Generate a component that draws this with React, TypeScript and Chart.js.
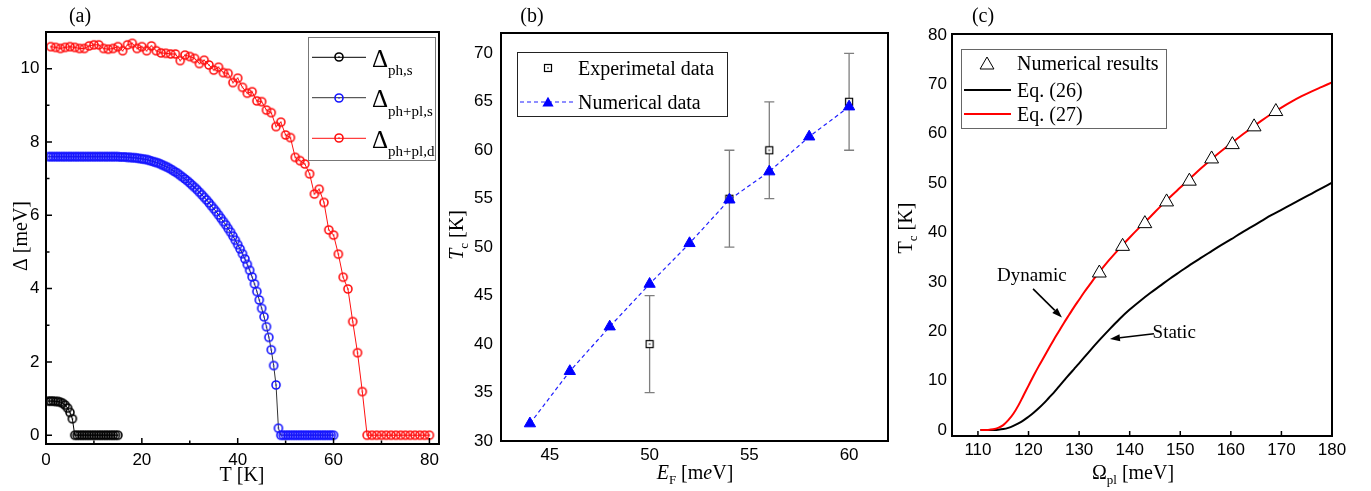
import React, { useEffect, useRef } from 'react';
import { Chart, registerables } from 'chart.js';

Chart.register(...registerables);

const SERIF = '"Liberation Serif", "Times New Roman", Times, serif';
const SANS = '"Liberation Sans", Arial, Helvetica, sans-serif';

// ---------------- Panel (a): gap vs temperature ----------------
const gridT = (start: number, step: number, n: number) =>
  Array.from({ length: n }, (_, i) => Math.round((start + i * step) * 100) / 100);

const deltaPhS = [
  0.93, 0.93, 0.93, 0.92, 0.92, 0.9, 0.87, 0.82, 0.74, 0.62, 0.45,
  0, 0, 0, 0, 0, 0, 0, 0, 0, 0, 0, 0, 0, 0, 0, 0, 0, 0, 0,
];
const tempPhS = gridT(0.5, 0.5, deltaPhS.length);

const deltaPhPlS = [
  7.6, 7.6, 7.6, 7.6, 7.6, 7.6, 7.6, 7.6, 7.6, 7.6,
  7.6, 7.6, 7.6, 7.6, 7.6, 7.6, 7.6, 7.6, 7.6, 7.6,
  7.6, 7.6, 7.6, 7.6, 7.6, 7.6, 7.6, 7.6, 7.6,
  7.6, 7.59, 7.59, 7.59, 7.58, 7.58, 7.57, 7.57, 7.56, 7.55,
  7.54, 7.53, 7.52, 7.5, 7.48, 7.46, 7.44, 7.42, 7.39, 7.36,
  7.33, 7.3, 7.26, 7.22, 7.18, 7.14, 7.09, 7.04, 6.99, 6.94,
  6.88, 6.82, 6.76, 6.7, 6.63, 6.56, 6.49, 6.42, 6.34, 6.26,
  6.18, 6.1, 6.01, 5.92, 5.83, 5.74, 5.64, 5.54, 5.43, 5.32,
  5.2, 5.08, 4.95, 4.81, 4.66, 4.5, 4.32, 4.13, 3.92, 3.69,
  3.46, 3.23, 2.96, 2.67, 2.33, 1.9, 1.37, 0.19,
  0, 0, 0, 0, 0, 0, 0, 0, 0, 0, 0, 0, 0, 0, 0, 0, 0, 0, 0, 0, 0, 0, 0,
];
const tempPhPlS = gridT(0.5, 0.5, deltaPhPlS.length);

const deltaPhPlD = [
  10.6, 10.58, 10.55, 10.58, 10.6, 10.58, 10.55, 10.55, 10.62, 10.65,
  10.65, 10.55, 10.53, 10.55, 10.6, 10.49, 10.65, 10.69, 10.55, 10.6,
  10.49, 10.62, 10.49, 10.43, 10.42, 10.4, 10.4, 10.22, 10.37, 10.33,
  10.28, 10.14, 10.23, 10.1, 9.96, 10.04, 9.89, 9.87, 9.62, 9.74,
  9.49, 9.33, 9.37, 9.12, 9.1, 8.87, 8.8, 8.42, 8.54, 8.19,
  8.12, 7.58, 7.49, 7.4, 7.13, 6.58, 6.71, 6.35, 5.6, 5.46,
  4.94, 4.31, 3.99, 3.1, 2.25, 1.19, 0, 0, 0, 0,
  0, 0, 0, 0, 0, 0, 0, 0, 0, 0,
];
const tempPhPlD = gridT(1, 1, deltaPhPlD.length);

const aXTicks = [0, 20, 40, 60, 80];
const aXMinor = [10, 30, 50, 70];
const aYTicks = [0, 2, 4, 6, 8, 10];
const aYMinor = [1, 3, 5, 7, 9];

// ---------------- Panel (b): Tc vs E_F ----------------
const numEF = [44, 46, 48, 50, 52, 54, 56, 58, 60];
const numTc = [31.8, 37.2, 41.8, 46.2, 50.4, 54.9, 57.8, 61.4, 64.5];
const expEF = [50, 54, 56, 60];
const expTc = [40, 55, 60, 65];
const expErr = [5, 5, 5, 5];
const bXTicks = [45, 50, 55, 60];
const bYTicks = [30, 35, 40, 45, 50, 55, 60, 65, 70];

// ---------------- Panel (c): Tc vs Omega_pl ----------------
const numOmega = [134.0, 138.6, 143.0, 147.3, 151.8, 156.2, 160.3, 164.6, 168.9];
const numTcC = [31.8, 37.2, 41.8, 46.2, 50.4, 54.9, 57.8, 61.4, 64.5];
const eq27Omega = [110.5, 112, 113, 114, 115, 116, 117, 118, 119, 120, 121, 122, 123, 124, 125, 126, 127, 128, 129, 130, 131, 132, 133, 134, 136, 138, 140, 142, 144, 146, 148, 150, 152, 154, 156, 158, 160, 162, 164, 166, 168, 170, 172, 174, 176, 178, 180];
const eq27Tc = [0, 0.03, 0.15, 0.45, 1.0, 2.0, 3.3, 5.0, 7.0, 9.0, 11.0, 12.9, 14.7, 16.5, 18.3, 20.0, 21.7, 23.3, 24.9, 26.4, 27.9, 29.3, 30.7, 32.0, 34.5, 36.8, 39.0, 41.1, 43.1, 45.2, 47.2, 49.1, 51.0, 52.9, 54.7, 56.4, 58.0, 59.6, 61.1, 62.6, 64.0, 65.3, 66.5, 67.6, 68.6, 69.5, 70.4];
const eq26Omega = [110.5, 112, 113, 114, 115, 116, 117, 118, 119, 120, 121, 122, 123, 124, 125, 126, 127, 128, 129, 130, 132, 134, 136, 138, 140, 142, 144, 146, 148, 150, 152, 154, 156, 158, 160, 162, 164, 166, 168, 170, 172, 174, 176, 178, 180];
const eq26Tc = [0, 0.01, 0.03, 0.08, 0.2, 0.45, 0.85, 1.35, 1.95, 2.7, 3.5, 4.4, 5.4, 6.5, 7.6, 8.8, 10.0, 11.2, 12.35, 13.5, 15.9, 18.2, 20.4, 22.5, 24.4, 26.1, 27.7, 29.2, 30.7, 32.1, 33.5, 34.8, 36.1, 37.4, 38.6, 39.9, 41.1, 42.3, 43.5, 44.6, 45.7, 46.8, 47.9, 49.0, 50.1];
const cXTicks = [110, 120, 130, 140, 150, 160, 170, 180];
const cYTicks = [0, 10, 20, 30, 40, 50, 60, 70, 80];

// annotation anchors (data units of panel c)
const dynLabel = { text: 'Dynamic', x: 120.66, y: 31.6 };
const dynArrow = { x1: 120.9, y1: 28.6, x2: 126.6, y2: 22.8 };
const staLabel = { text: 'Static', x: 148.8, y: 20.0 };
const staArrow = { x1: 144.8, y1: 19.5, x2: 136.1, y2: 18.45 };

// ---------------- layout ----------------
const H = 491;
const A_LEFT = 0, A_W = 445;
const B_LEFT = 445, B_W = 455;
const C_LEFT = 885, C_W = 486;

type Part = { t: string; f: string; dy?: number };

function richWidth(ctx: CanvasRenderingContext2D, parts: Part[]) {
  let w = 0;
  for (const p of parts) {
    ctx.font = p.f;
    w += ctx.measureText(p.t).width;
  }
  return w;
}
function drawRich(ctx: CanvasRenderingContext2D, parts: Part[], x: number, y: number, align: string) {
  let cx = align === 'center' ? x - richWidth(ctx, parts) / 2 : x;
  ctx.textAlign = 'left';
  ctx.textBaseline = 'alphabetic';
  for (const p of parts) {
    ctx.font = p.f;
    ctx.fillText(p.t, cx, y + (p.dy || 0));
    cx += ctx.measureText(p.t).width;
  }
}
function drawRotated(ctx: CanvasRenderingContext2D, parts: Part[], x: number, y: number) {
  ctx.save();
  ctx.translate(x, y);
  ctx.rotate(-Math.PI / 2);
  drawRich(ctx, parts, 0, 0, 'center');
  ctx.restore();
}

function makeCircleDot(color: string) {
  const c = document.createElement('canvas');
  c.width = 12;
  c.height = 12;
  const g = c.getContext('2d')!;
  g.strokeStyle = color;
  g.lineWidth = 1.6;
  g.beginPath();
  g.arc(6, 6, 4, 0, Math.PI * 2);
  g.stroke();
  g.fillStyle = color;
  g.beginPath();
  g.arc(6, 6, 0.8, 0, Math.PI * 2);
  g.fill();
  return c;
}
function makeSquareDot() {
  const c = document.createElement('canvas');
  c.width = 10;
  c.height = 10;
  const g = c.getContext('2d')!;
  g.fillStyle = '#fff';
  g.fillRect(1.5, 1.5, 7, 7);
  g.strokeStyle = '#000';
  g.lineWidth = 1.2;
  g.strokeRect(1.5, 1.5, 7, 7);
  g.fillStyle = '#000';
  g.beginPath();
  g.arc(5, 5, 0.8, 0, Math.PI * 2);
  g.fill();
  return c;
}

function axis(min: number, max: number, ticks: number[], pad: number, size: number, horizontal: boolean) {
  return {
    type: 'linear',
    min,
    max,
    grid: { display: false, drawTicks: false },
    border: { display: false },
    ticks: {
      padding: pad,
      color: '#000',
      font: { family: SANS, size: 17 },
      autoSkip: false,
      maxRotation: 0,
      includeBounds: false,
      callback: (v: any) => String(v),
    },
    afterBuildTicks: (s: any) => {
      s.ticks = ticks.map((v) => ({ value: v }));
    },
    afterFit: (s: any) => {
      if (horizontal) s.height = size;
      else s.width = size;
    },
  };
}

function frame(ctx: CanvasRenderingContext2D, ca: any) {
  ctx.strokeStyle = '#000';
  ctx.lineWidth = 2;
  ctx.strokeRect(ca.left, ca.top, ca.right - ca.left, ca.bottom - ca.top);
}

function pts(xs: number[], ys: number[]) {
  return xs.map((x, i) => ({ x, y: ys[i] }));
}

const baseOpts = (padding: any) => ({
  responsive: false,
  maintainAspectRatio: false,
  animation: false,
  events: [],
  layout: { padding },
  plugins: { legend: { display: false }, tooltip: { enabled: false }, title: { display: false } },
});

function buildA(canvas: HTMLCanvasElement) {
  const imgK = makeCircleDot('#000');
  const imgB = makeCircleDot('#1414ff');
  const imgR = makeCircleDot('#ff1010');
  const extras = {
    id: 'extrasA',
    afterDraw(chart: any) {
      const { ctx, chartArea: ca } = chart;
      const x = chart.scales.x, y = chart.scales.y;
      ctx.save();
      ctx.strokeStyle = '#000';
      ctx.lineWidth = 1.5;
      ctx.beginPath();
      for (const v of aXTicks) { const p = x.getPixelForValue(v); ctx.moveTo(p, ca.bottom); ctx.lineTo(p, ca.bottom - 6); }
      for (const v of aXMinor) { const p = x.getPixelForValue(v); ctx.moveTo(p, ca.bottom); ctx.lineTo(p, ca.bottom - 3.5); }
      for (const v of aYTicks) { const p = y.getPixelForValue(v); ctx.moveTo(ca.left, p); ctx.lineTo(ca.left + 6, p); }
      for (const v of aYMinor) { const p = y.getPixelForValue(v); ctx.moveTo(ca.left, p); ctx.lineTo(ca.left + 3.5, p); }
      ctx.stroke();
      frame(ctx, ca);
      ctx.translate(-A_LEFT, 0);
      // legend
      ctx.fillStyle = '#fff';
      ctx.fillRect(308, 37, 127, 123);
      ctx.strokeStyle = '#777';
      ctx.lineWidth = 1;
      ctx.strokeRect(308.5, 37.5, 127, 123);
      const rows = [
        { y: 57.3, line: '#000', img: imgK, sub: 'ph,s' },
        { y: 97.7, line: '#333', img: imgB, sub: 'ph+pl,s' },
        { y: 138.3, line: '#ff1010', img: imgR, sub: 'ph+pl,d' },
      ];
      for (const r of rows) {
        ctx.strokeStyle = r.line;
        ctx.lineWidth = 1;
        ctx.beginPath();
        ctx.moveTo(312, r.y);
        ctx.lineTo(366, r.y);
        ctx.stroke();
        ctx.drawImage(r.img, 339 - 6, Math.round(r.y) - 6);
        ctx.fillStyle = '#000';
        drawRich(ctx, [
          { t: 'Δ', f: `25px ${SERIF}` },
          { t: r.sub, f: `15px ${SERIF}`, dy: 8.5 },
        ], 372, r.y + 9.5, 'left');
      }
      ctx.fillStyle = '#000';
      drawRich(ctx, [{ t: '(a)', f: `20px ${SERIF}` }], 80, 22, 'center');
      drawRich(ctx, [{ t: 'T [K]', f: `20px ${SERIF}` }], 242, 481, 'center');
      drawRotated(ctx, [{ t: 'Δ [meV]', f: `20px ${SERIF}` }], 27, 236);
      ctx.restore();
    },
  };
  return new Chart(canvas, {
    type: 'scatter',
    data: {
      datasets: [
        { data: pts(tempPhS, deltaPhS), showLine: true, borderColor: '#000', borderWidth: 1, pointStyle: imgK, pointRadius: 4 },
        { data: pts(tempPhPlS, deltaPhPlS), showLine: true, borderColor: '#333', borderWidth: 1, pointStyle: imgB, pointRadius: 4 },
        { data: pts(tempPhPlD, deltaPhPlD), showLine: true, borderColor: '#ff1010', borderWidth: 1, pointStyle: imgR, pointRadius: 4 },
      ],
    } as any,
    options: {
      ...baseOpts({ left: 0, top: 32, right: A_W - 439, bottom: 0 }),
      scales: {
        x: axis(0, 82, aXTicks, 6, H - 444, true),
        y: axis(-0.24, 11, aYTicks, 6.5, 46, false),
      },
    } as any,
    plugins: [extras],
  });
}

function buildB(canvas: HTMLCanvasElement) {
  const sq = makeSquareDot();
  const extras = {
    id: 'extrasB',
    beforeDatasetsDraw(chart: any) {
      const { ctx } = chart;
      const x = chart.scales.x, y = chart.scales.y;
      ctx.save();
      ctx.strokeStyle = '#7f7f7f';
      ctx.lineWidth = 1.3;
      ctx.beginPath();
      expEF.forEach((e, i) => {
        const px = x.getPixelForValue(e);
        const lo = y.getPixelForValue(expTc[i] - expErr[i]);
        const hi = y.getPixelForValue(expTc[i] + expErr[i]);
        ctx.moveTo(px, lo); ctx.lineTo(px, hi);
        ctx.moveTo(px - 5, lo); ctx.lineTo(px + 5, lo);
        ctx.moveTo(px - 5, hi); ctx.lineTo(px + 5, hi);
      });
      ctx.stroke();
      ctx.restore();
    },
    afterDraw(chart: any) {
      const { ctx, chartArea: ca } = chart;
      ctx.save();
      frame(ctx, ca);
      ctx.translate(-B_LEFT, 0);
      ctx.fillStyle = '#fff';
      ctx.fillRect(517, 52, 210, 64);
      ctx.strokeStyle = '#222';
      ctx.lineWidth = 1;
      ctx.strokeRect(517.5, 52.5, 210, 64);
      ctx.drawImage(sq, 548 - 5, 68 - 5);
      ctx.strokeStyle = '#1f1fff';
      ctx.lineWidth = 1.2;
      ctx.setLineDash([4, 3]);
      ctx.beginPath();
      ctx.moveTo(520, 102);
      ctx.lineTo(573, 102);
      ctx.stroke();
      ctx.setLineDash([]);
      ctx.fillStyle = '#0000ff';
      const r = 6.5, cy = 103.2;
      ctx.beginPath();
      ctx.moveTo(548, cy - r);
      ctx.lineTo(548 + r * 0.866, cy + r / 2);
      ctx.lineTo(548 - r * 0.866, cy + r / 2);
      ctx.closePath();
      ctx.fill();
      ctx.fillStyle = '#000';
      drawRich(ctx, [{ t: 'Experimetal data', f: `20px ${SERIF}` }], 578, 75, 'left');
      drawRich(ctx, [{ t: 'Numerical data', f: `20px ${SERIF}` }], 578, 108.5, 'left');
      drawRich(ctx, [{ t: '(b)', f: `20px ${SERIF}` }], 532, 22, 'center');
      drawRich(ctx, [
        { t: 'E', f: `italic 20px ${SERIF}` },
        { t: 'F', f: `13px ${SERIF}`, dy: 5 },
        { t: ' [m', f: `20px ${SERIF}` },
        { t: 'e', f: `italic 20px ${SERIF}` },
        { t: 'V]', f: `20px ${SERIF}` },
      ], 695, 479, 'center');
      drawRotated(ctx, [
        { t: 'T', f: `italic 20px ${SERIF}` },
        { t: 'c', f: `13px ${SERIF}`, dy: 5 },
        { t: ' [K]', f: `20px ${SERIF}` },
      ], 463, 235);
      ctx.restore();
    },
  };
  return new Chart(canvas, {
    type: 'scatter',
    data: {
      datasets: [
        {
          data: pts(numEF, numTc), showLine: true, borderColor: '#1f1fff', borderWidth: 1.2, borderDash: [4, 3],
          pointStyle: 'triangle', pointRadius: 6.5, pointBackgroundColor: '#0000ff', pointBorderColor: '#0000ff', pointBorderWidth: 1, order: 0,
        },
        { data: pts(expEF, expTc), showLine: false, pointStyle: sq, pointRadius: 4, order: 1 },
      ],
    } as any,
    options: {
      ...baseOpts({ left: 0, top: 33, right: B_W - (888 - B_LEFT), bottom: 0 }),
      scales: {
        x: axis(42.55, 61.95, bXTicks, 4, H - 441, true),
        y: axis(30, 72.1, bYTicks, 8, 501 - B_LEFT, false),
      },
    } as any,
    plugins: [extras],
  });
}

function arrow(ctx: CanvasRenderingContext2D, x1: number, y1: number, x2: number, y2: number) {
  const a = Math.atan2(y2 - y1, x2 - x1);
  const L = 10, W = 3.5;
  const bx = x2 - L * Math.cos(a), by = y2 - L * Math.sin(a);
  ctx.beginPath();
  ctx.moveTo(x1, y1);
  ctx.lineTo(bx, by);
  ctx.lineWidth = 1.6;
  ctx.stroke();
  ctx.beginPath();
  ctx.moveTo(x2, y2);
  ctx.lineTo(bx - W * Math.sin(a), by + W * Math.cos(a));
  ctx.lineTo(bx + W * Math.sin(a), by - W * Math.cos(a));
  ctx.closePath();
  ctx.fill();
}

function buildC(canvas: HTMLCanvasElement) {
  const extras = {
    id: 'extrasC',
    afterDraw(chart: any) {
      const { ctx, chartArea: ca } = chart;
      const x = chart.scales.x, y = chart.scales.y;
      ctx.save();
      ctx.strokeStyle = '#000';
      ctx.lineWidth = 1.5;
      ctx.beginPath();
      for (const v of cXTicks) { const p = x.getPixelForValue(v); ctx.moveTo(p, ca.bottom); ctx.lineTo(p, ca.bottom - 5); }
      ctx.stroke();
      frame(ctx, ca);
      // annotations
      ctx.fillStyle = '#000';
      ctx.strokeStyle = '#000';
      drawRich(ctx, [{ t: dynLabel.text, f: `19px ${SERIF}` }], x.getPixelForValue(dynLabel.x), y.getPixelForValue(dynLabel.y) + 6.5, 'center');
      drawRich(ctx, [{ t: staLabel.text, f: `19px ${SERIF}` }], x.getPixelForValue(staLabel.x), y.getPixelForValue(staLabel.y) + 6.5, 'center');
      arrow(ctx, x.getPixelForValue(dynArrow.x1), y.getPixelForValue(dynArrow.y1), x.getPixelForValue(dynArrow.x2), y.getPixelForValue(dynArrow.y2));
      arrow(ctx, x.getPixelForValue(staArrow.x1), y.getPixelForValue(staArrow.y1), x.getPixelForValue(staArrow.x2), y.getPixelForValue(staArrow.y2));
      ctx.translate(-C_LEFT, 0);
      // legend
      ctx.fillStyle = '#fff';
      ctx.fillRect(961, 49, 205, 79);
      ctx.strokeStyle = '#666';
      ctx.lineWidth = 1;
      ctx.strokeRect(961.5, 49.5, 205, 79);
      const r = 8, cx = 987, cy = 65;
      ctx.beginPath();
      ctx.moveTo(cx, cy - r);
      ctx.lineTo(cx + r * 0.866, cy + r / 2);
      ctx.lineTo(cx - r * 0.866, cy + r / 2);
      ctx.closePath();
      ctx.fillStyle = '#fff';
      ctx.fill();
      ctx.strokeStyle = '#000';
      ctx.lineWidth = 1;
      ctx.stroke();
      ctx.lineWidth = 2;
      ctx.strokeStyle = '#000';
      ctx.beginPath(); ctx.moveTo(964, 90); ctx.lineTo(1011, 90); ctx.stroke();
      ctx.strokeStyle = '#ff0000';
      ctx.beginPath(); ctx.moveTo(964, 114); ctx.lineTo(1011, 114); ctx.stroke();
      ctx.fillStyle = '#000';
      drawRich(ctx, [{ t: 'Numerical results', f: `20px ${SERIF}` }], 1017, 70, 'left');
      drawRich(ctx, [{ t: 'Eq. (26)', f: `20px ${SERIF}` }], 1017, 97, 'left');
      drawRich(ctx, [{ t: 'Eq. (27)', f: `20px ${SERIF}` }], 1017, 121, 'left');
      drawRich(ctx, [{ t: '(c)', f: `20px ${SERIF}` }], 983, 22, 'center');
      drawRich(ctx, [
        { t: 'Ω', f: `20px ${SERIF}` },
        { t: 'pl', f: `13px ${SERIF}`, dy: 5 },
        { t: ' [meV]', f: `20px ${SERIF}` },
      ], 1133, 479, 'center');
      drawRotated(ctx, [
        { t: 'T', f: `20px ${SERIF}` },
        { t: 'c', f: `13px ${SERIF}`, dy: 5 },
        { t: ' [K]', f: `20px ${SERIF}` },
      ], 912, 228);
      ctx.restore();
    },
  };
  return new Chart(canvas, {
    type: 'scatter',
    data: {
      datasets: [
        {
          data: pts(numOmega, numTcC), showLine: false, pointStyle: 'triangle', pointRadius: 8,
          pointBackgroundColor: '#fff', pointBorderColor: '#000', pointBorderWidth: 1, order: 0,
        },
        {
          data: pts(eq26Omega, eq26Tc), showLine: true, borderColor: '#000', borderWidth: 2, pointRadius: 0,
          cubicInterpolationMode: 'monotone', order: 2,
        },
        {
          data: pts(eq27Omega, eq27Tc), showLine: true, borderColor: '#ff0000', borderWidth: 2, pointRadius: 0,
          cubicInterpolationMode: 'monotone', order: 1,
        },
      ],
    } as any,
    options: {
      ...baseOpts({ left: 0, top: 34, right: C_W - (1332 - C_LEFT), bottom: 0 }),
      scales: {
        x: axis(104.87, 180, cXTicks, 4, H - 436, true),
        y: axis(-1.2, 80.2, cYTicks, 5, 952 - C_LEFT, false),
      },
    } as any,
    plugins: [extras],
  });
}

export default function App() {
  const ra = useRef<HTMLCanvasElement>(null);
  const rb = useRef<HTMLCanvasElement>(null);
  const rc = useRef<HTMLCanvasElement>(null);
  useEffect(() => {
    const charts = [buildA(ra.current!), buildB(rb.current!), buildC(rc.current!)];
    return () => charts.forEach((c) => c.destroy());
  }, []);
  return (
    <div style={{ position: 'absolute', left: 0, top: 0, width: 1371, height: H, background: '#fff', overflow: 'hidden' }}>
      <canvas ref={ra} width={A_W} height={H} style={{ position: 'absolute', left: A_LEFT, top: 0 }} />
      <canvas ref={rb} width={B_W} height={H} style={{ position: 'absolute', left: B_LEFT, top: 0 }} />
      <canvas ref={rc} width={C_W} height={H} style={{ position: 'absolute', left: C_LEFT, top: 0 }} />
    </div>
  );
}
